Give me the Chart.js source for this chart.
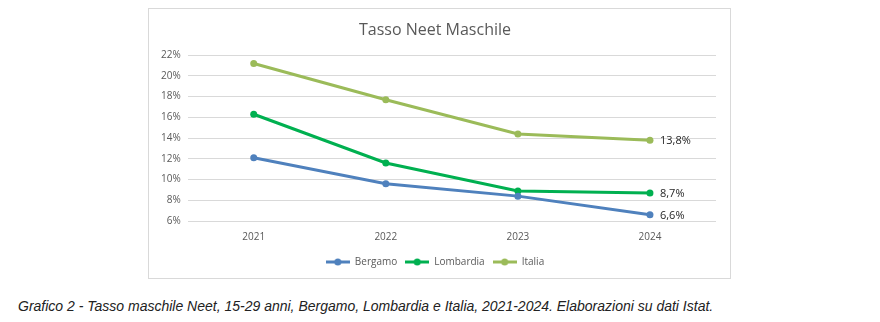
<!DOCTYPE html>
<html>
<head>
<meta charset="utf-8">
<script src="https://cdn.jsdelivr.net/npm/chart.js@4"></script>
<style>
    body { margin: 0; background: #fff; width: 880px; height: 322px; position: relative; }
    .chart-box {
        position: absolute; left: 148px; top: 8px; width: 581px; height: 269px;
        border: 1px solid #d9d9d9;
    }
    .caption {
        position: absolute; left: 18px; top: 298px;
        font: italic 14px "Liberation Sans", Arial, sans-serif; color: #222;
        white-space: nowrap;
    }
</style>
</head>
<body>
<div class="chart-box"><canvas id="neetChart"></canvas></div>
<div class="caption">Grafico 2 - Tasso maschile Neet, 15-29 anni, Bergamo, Lombardia e Italia, 2021-2024. Elaborazioni su dati Istat.</div>
<script>
const years = ['2021', '2022', '2023', '2024'];
const bergamo = [12.1, 9.6, 8.4, 6.6];
const lombardia = [16.3, 11.6, 8.9, 8.7];
const italia = [21.2, 17.7, 14.4, 13.8];
const seriesNames = ['Bergamo', 'Lombardia', 'Italia'];
const seriesColors = ['#4f81bd', '#00b050', '#9bbb59'];

const FONT = '"Open Sans", "Liberation Sans", sans-serif';

// small line+dot marker used in the legend
function legendMarker(color) {
    const c = document.createElement('canvas');
    c.width = 24; c.height = 8;
    const ctx = c.getContext('2d');
    ctx.strokeStyle = color;
    ctx.lineWidth = 3;
    ctx.beginPath();
    ctx.moveTo(0, 4); ctx.lineTo(24, 4);
    ctx.stroke();
    ctx.fillStyle = color;
    ctx.beginPath();
    ctx.arc(12, 4, 3.5, 0, Math.PI * 2);
    ctx.fill();
    return c;
}

// value label next to the last point of each line
const lastValueLabels = {
    id: 'lastValueLabels',
    afterDatasetsDraw(chart) {
        const ctx = chart.ctx;
        ctx.save();
        ctx.font = '11px ' + FONT;
        ctx.fillStyle = '#262626';
        ctx.textBaseline = 'middle';
        chart.data.datasets.forEach((ds, i) => {
            const meta = chart.getDatasetMeta(i);
            const last = meta.data[meta.data.length - 1];
            const v = ds.data[ds.data.length - 1];
            ctx.fillText(v.toFixed(1).replace('.', ',') + '%', last.x + 10, last.y + 1);
        });
        ctx.restore();
    }
};

function makeDataset(name, data, color) {
    return {
        label: name,
        data: data,
        borderColor: color,
        backgroundColor: color,
        borderWidth: 3,
        pointRadius: 3.5,
        pointBorderWidth: 0,
        pointHoverRadius: 3.5,
        tension: 0
    };
}

new Chart(document.getElementById('neetChart'), {
    type: 'line',
    data: {
        labels: years,
        datasets: [
            makeDataset(seriesNames[0], bergamo, seriesColors[0]),
            makeDataset(seriesNames[1], lombardia, seriesColors[1]),
            makeDataset(seriesNames[2], italia, seriesColors[2])
        ]
    },
    options: {
        responsive: true,
        maintainAspectRatio: false,
        animation: false,
        layout: { padding: { left: 5, right: 14, top: 6, bottom: 1 } },
        plugins: {
            title: {
                display: true,
                text: 'Tasso Neet Maschile',
                color: '#595959',
                font: { family: FONT, size: 16, weight: 'normal' },
                padding: { top: 6, bottom: 15 }
            },
            legend: {
                position: 'bottom',
                labels: {
                    color: '#595959',
                    font: { family: FONT, size: 10 },
                    usePointStyle: true,
                    pointStyleWidth: 24,
                    boxHeight: 8,
                    padding: 8,
                    generateLabels(chart) {
                        const items = Chart.defaults.plugins.legend.labels.generateLabels(chart);
                        items.forEach((it, i) => { it.pointStyle = legendMarker(seriesColors[i]); });
                        return items;
                    }
                }
            },
            tooltip: { enabled: false }
        },
        scales: {
            x: {
                offset: true,
                grid: { display: false },
                border: { display: false },
                ticks: { color: '#595959', font: { family: FONT, size: 10 }, padding: 2 },
                afterFit(axis) { axis.height += 4; }
            },
            y: {
                min: 6,
                max: 22,
                ticks: {
                    stepSize: 2,
                    color: '#595959',
                    font: { family: FONT, size: 10 },
                    padding: 7,
                    callback: (v) => v + '%'
                },
                grid: { color: '#d9d9d9', drawTicks: false },
                border: { display: false }
            }
        }
    },
    plugins: [lastValueLabels]
});
</script>
</body>
</html>
